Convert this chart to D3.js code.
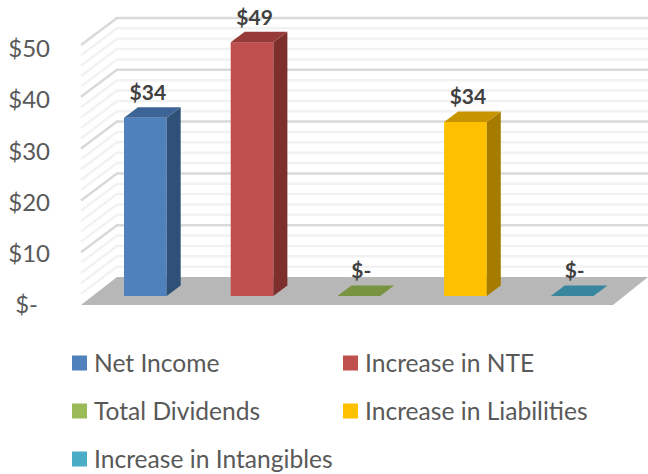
<!DOCTYPE html>
<html>
<head>
<meta charset="utf-8">
<script src="https://cdn.jsdelivr.net/npm/d3@7"></script>
<style>
  html, body { margin: 0; padding: 0; background: #fff; }
  svg { display: block; font-family: Lato, "Open Sans", sans-serif; }
</style>
</head>
<body>
<svg id="chart" width="648" height="474"></svg>
<script>
const categories = ["Net Income", "Increase in NTE", "Total Dividends", "Increase in Liabilities", "Increase in Intangibles"];
const values = [34.4, 49, 0, 33.6, 0];
const frontColors = ["#4f81bd", "#c0504d", "#9bbb59", "#ffc000", "#4bacc6"];
const sideColors = ["#2f5077", "#7d2f2d", "#5f7236", "#a67c00", "#2e6a7a"];
const topColors = ["#3c6496", "#963b38", "#789440", "#c79400", "#37869e"];
const majorTicks = [0, 10, 20, 30, 40, 50];
const minorTicks = [2, 4, 6, 8, 12, 14, 16, 18, 22, 24, 26, 28, 32, 34, 36, 38, 42, 44, 46, 48];

const svg = d3.select("#chart");

const fmt = v => v === 0 ? "$-" : "$" + d3.format(".0f")(v);

// wall scale, bars sit 19px in front of the wall
const y = d3.scaleLinear().domain([0, 50]).range([277, 18]);
const x = d3.scaleBand().domain(categories).range([124, 593.5]).paddingInner(0.6);
const tickY = d3.scaleLinear().domain([0, 50]).range([305, 49]);

const barBase = 19;
const depthX = 14, depthY = 10.5;

// side wall + back wall gridlines
function drawGrid(ticks, color, width) {
  const g = svg.append("g").attr("fill", "none").attr("stroke", color).attr("stroke-width", width);
  g.selectAll("path")
    .data(ticks)
    .enter()
    .append("path")
    .attr("d", d => "M81," + (y(d) + 27) + "L117," + y(d) + "H648");
}
drawGrid(minorTicks, "#f2f2f2", 2.5);
drawGrid(majorTicks.slice(1), "#d9d9d9", 2.5);

// floor
svg.append("path")
  .attr("fill", "#b7b7b7")
  .attr("d", "M81,305L117,277H648L613,305Z");

// bars
const barData = categories.map((name, i) => ({ name, value: values[i], i }));

const bars = svg.selectAll(".bar")
  .data(barData)
  .enter()
  .append("g")
  .attr("class", "bar");

const barTop = d => y(d.value) + barBase;
const solid = bars.filter(d => d.value > 0);

solid.append("rect")
  .attr("x", d => x(d.name))
  .attr("y", barTop)
  .attr("width", x.bandwidth())
  .attr("height", d => y(0) - y(d.value))
  .attr("fill", d => frontColors[d.i]);

solid.append("path")
  .attr("fill", d => sideColors[d.i])
  .attr("d", d => {
    const r = x(d.name) + x.bandwidth();
    const t = barTop(d);
    const b = y(0) + barBase;
    return "M" + r + "," + t + "L" + (r + depthX) + "," + (t - depthY) + "V" + (b - depthY) + "L" + r + "," + b + "Z";
  });

bars.append("path")
  .attr("fill", d => topColors[d.i])
  .attr("d", d => {
    const l = x(d.name);
    const r = l + x.bandwidth();
    const t = barTop(d);
    return "M" + l + "," + t + "L" + (l + depthX) + "," + (t - depthY) + "H" + (r + depthX) + "L" + r + "," + t + "Z";
  });

bars.append("text")
  .attr("x", d => x(d.name) + x.bandwidth() / 2 + 2.5)
  .attr("y", d => barTop(d) - depthY - (d.value === 0 ? 8 : 7))
  .attr("text-anchor", "middle")
  .attr("font-size", 21)
  .attr("font-weight", 700)
  .attr("fill", "#404040")
  .text(d => fmt(d.value));

// value axis
const axis = d3.axisLeft(tickY)
  .tickValues(majorTicks)
  .tickSize(0)
  .tickPadding(0)
  .tickFormat(fmt);

const axisG = svg.append("g")
  .attr("transform", "translate(50,0)")
  .call(axis);
axisG.select(".domain").remove();
axisG.selectAll("text")
  .attr("font-family", "Lato, 'Open Sans', sans-serif")
  .attr("font-size", 24)
  .attr("fill", "#595959");
axisG.selectAll(".tick")
  .filter(d => d === 0)
  .select("text")
  .attr("x", -12);

// legend
const legendX = [72, 343];
const legendY = [363, 411, 459];
const legend = svg.selectAll(".legend")
  .data(categories)
  .enter()
  .append("g")
  .attr("class", "legend")
  .attr("transform", (d, i) => "translate(" + legendX[i % 2] + "," + legendY[Math.floor(i / 2)] + ")");

legend.append("rect")
  .attr("y", -7.5)
  .attr("width", 15)
  .attr("height", 15)
  .attr("fill", (d, i) => frontColors[i]);

legend.append("text")
  .attr("x", 22)
  .attr("y", 8.5)
  .attr("font-size", 24.6)
  .attr("fill", "#595959")
  .text(d => d);
</script>
</body>
</html>
